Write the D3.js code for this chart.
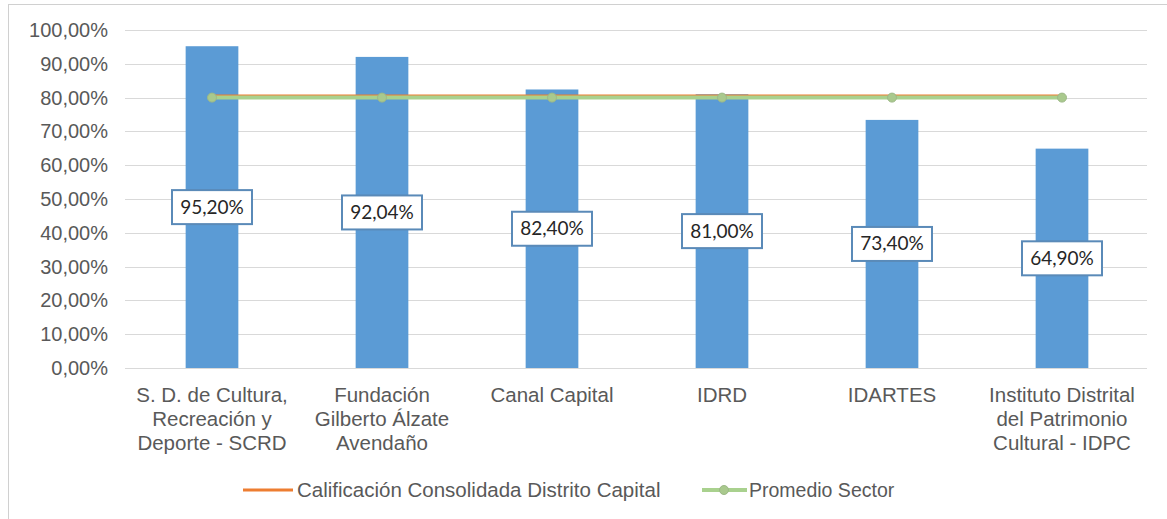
<!DOCTYPE html>
<html lang="es">
<head>
  <meta charset="utf-8">
  <title>Calificación por entidad</title>
  <script src="https://cdn.jsdelivr.net/npm/d3@7"></script>
  <style>
    body { margin: 0; background: #fff; }
  </style>
</head>
<body>
  <script>
  // datos
  var categorias = [
    ["S. D. de Cultura,", "Recreación y", "Deporte - SCRD"],
    ["Fundación", "Gilberto Álzate", "Avendaño"],
    ["Canal Capital"],
    ["IDRD"],
    ["IDARTES"],
    ["Instituto Distrital", "del Patrimonio", "Cultural - IDPC"]
  ];
  var calificacion = [95.20, 92.04, 82.40, 81.00, 73.40, 64.90];
  var consolidadaDistrito = [80.5, 80.5, 80.5, 80.5, 80.5, 80.5];
  var promedioSector = [80, 80, 80, 80, 80, 80];
  var ticksY = [0, 10, 20, 30, 40, 50, 60, 70, 80, 90, 100];
  var leyenda = ["Calificación Consolidada Distrito Capital", "Promedio Sector"];

  var width = 1167, height = 519;
  var margen = { izq: 127, der: 1147, sup: 30, inf: 368 };
  var fuente = "Liberation Sans, Arial, sans-serif";

  var svg = d3.select("body").append("svg")
    .attr("width", width)
    .attr("height", height);

  // borde del area del grafico
  svg.append("rect")
    .attr("x", 8.5).attr("y", 4.5)
    .attr("width", 1300).attr("height", 700)
    .attr("fill", "#fff")
    .attr("stroke", "#d0d0d0");

  var x = d3.scaleBand()
    .domain(d3.range(categorias.length))
    .range([margen.izq, margen.der])
    .paddingInner(0.69)
    .paddingOuter(0.345);

  var xc = i => x(i) + x.bandwidth() / 2;

  var y = d3.scaleLinear().domain([0, 100]).range([margen.inf, margen.sup]);

  var fmt = v => v.toFixed(2).replace(".", ",") + "%";

  // lineas de cuadricula
  svg.append("g")
    .selectAll("line")
    .data(ticksY)
    .enter().append("line")
    .attr("x1", 125).attr("x2", margen.der)
    .attr("y1", d => Math.round(y(d)) + 0.5)
    .attr("y2", d => Math.round(y(d)) + 0.5)
    .attr("stroke", "#d9d9d9")
    .attr("stroke-width", 1);

  // etiquetas eje y
  svg.append("g")
    .selectAll("text")
    .data(ticksY)
    .enter().append("text")
    .attr("x", 108)
    .attr("y", d => y(d) + 7)
    .attr("text-anchor", "end")
    .attr("font-family", fuente)
    .attr("font-size", "20px")
    .attr("fill", "#595959")
    .text(d => fmt(d));

  // barras
  svg.append("g")
    .selectAll("rect")
    .data(calificacion)
    .enter().append("rect")
    .attr("x", (d, i) => x(i))
    .attr("y", d => y(d))
    .attr("width", x.bandwidth())
    .attr("height", d => y(0) - y(d))
    .attr("fill", "#5b9bd5");

  // lineas de referencia
  var linea = d3.line().x((d, i) => xc(i)).y(d => y(d));

  svg.append("path")
    .datum(consolidadaDistrito)
    .attr("d", linea)
    .attr("fill", "none")
    .attr("stroke", "#ed7d31")
    .attr("stroke-width", 3);

  svg.append("path")
    .datum(promedioSector)
    .attr("d", linea)
    .attr("fill", "none")
    .attr("stroke", "#a9d18e")
    .attr("stroke-width", 4);

  svg.append("g")
    .selectAll("circle")
    .data(promedioSector)
    .enter().append("circle")
    .attr("cx", (d, i) => xc(i))
    .attr("cy", d => y(d))
    .attr("r", 4.5)
    .attr("fill", "#a9c98d")
    .attr("stroke", "#9db987")
    .attr("stroke-width", 1);

  // etiquetas de datos
  var etiquetas = svg.append("g")
    .selectAll("g")
    .data(calificacion)
    .enter().append("g")
    .attr("transform", (d, i) => `translate(${xc(i)},${(y(d) + y(0)) / 2})`);

  etiquetas.append("rect")
    .attr("x", -40).attr("y", -17)
    .attr("width", 80).attr("height", 34)
    .attr("fill", "#fff")
    .attr("stroke", "#5a8ab8")
    .attr("stroke-width", 2);

  etiquetas.append("text")
    .attr("y", 6.5)
    .attr("text-anchor", "middle")
    .attr("font-family", "Lato, Carlito, sans-serif")
    .attr("font-size", "19px")
    .attr("fill", "#262626")
    .text(d => fmt(d));

  // etiquetas eje x
  svg.append("g")
    .selectAll("text")
    .data(categorias)
    .enter().append("text")
    .attr("text-anchor", "middle")
    .attr("font-family", fuente)
    .attr("font-size", "20.5px")
    .attr("fill", "#595959")
    .each(function(d, i) {
      d3.select(this).selectAll("tspan")
        .data(d)
        .enter().append("tspan")
        .attr("x", xc(i))
        .attr("y", (t, j) => 402 + j * 24)
        .text(t => t);
    });

  // leyenda
  var ley = svg.append("g");
  ley.append("line")
    .attr("x1", 243).attr("x2", 293)
    .attr("y1", 490).attr("y2", 490)
    .attr("stroke", "#ed7d31").attr("stroke-width", 3);
  ley.append("text")
    .attr("x", 297).attr("y", 497)
    .attr("font-family", fuente)
    .attr("font-size", "20.5px")
    .attr("fill", "#595959")
    .text(leyenda[0]);
  ley.append("line")
    .attr("x1", 702).attr("x2", 747)
    .attr("y1", 490).attr("y2", 490)
    .attr("stroke", "#a9d18e").attr("stroke-width", 4);
  ley.append("circle")
    .attr("cx", 724).attr("cy", 490).attr("r", 4.5)
    .attr("fill", "#a9c98d").attr("stroke", "#9db987");
  ley.append("text")
    .attr("x", 749).attr("y", 497)
    .attr("font-family", fuente)
    .attr("font-size", "19.5px")
    .attr("fill", "#595959")
    .text(leyenda[1]);
  </script>
</body>
</html>
